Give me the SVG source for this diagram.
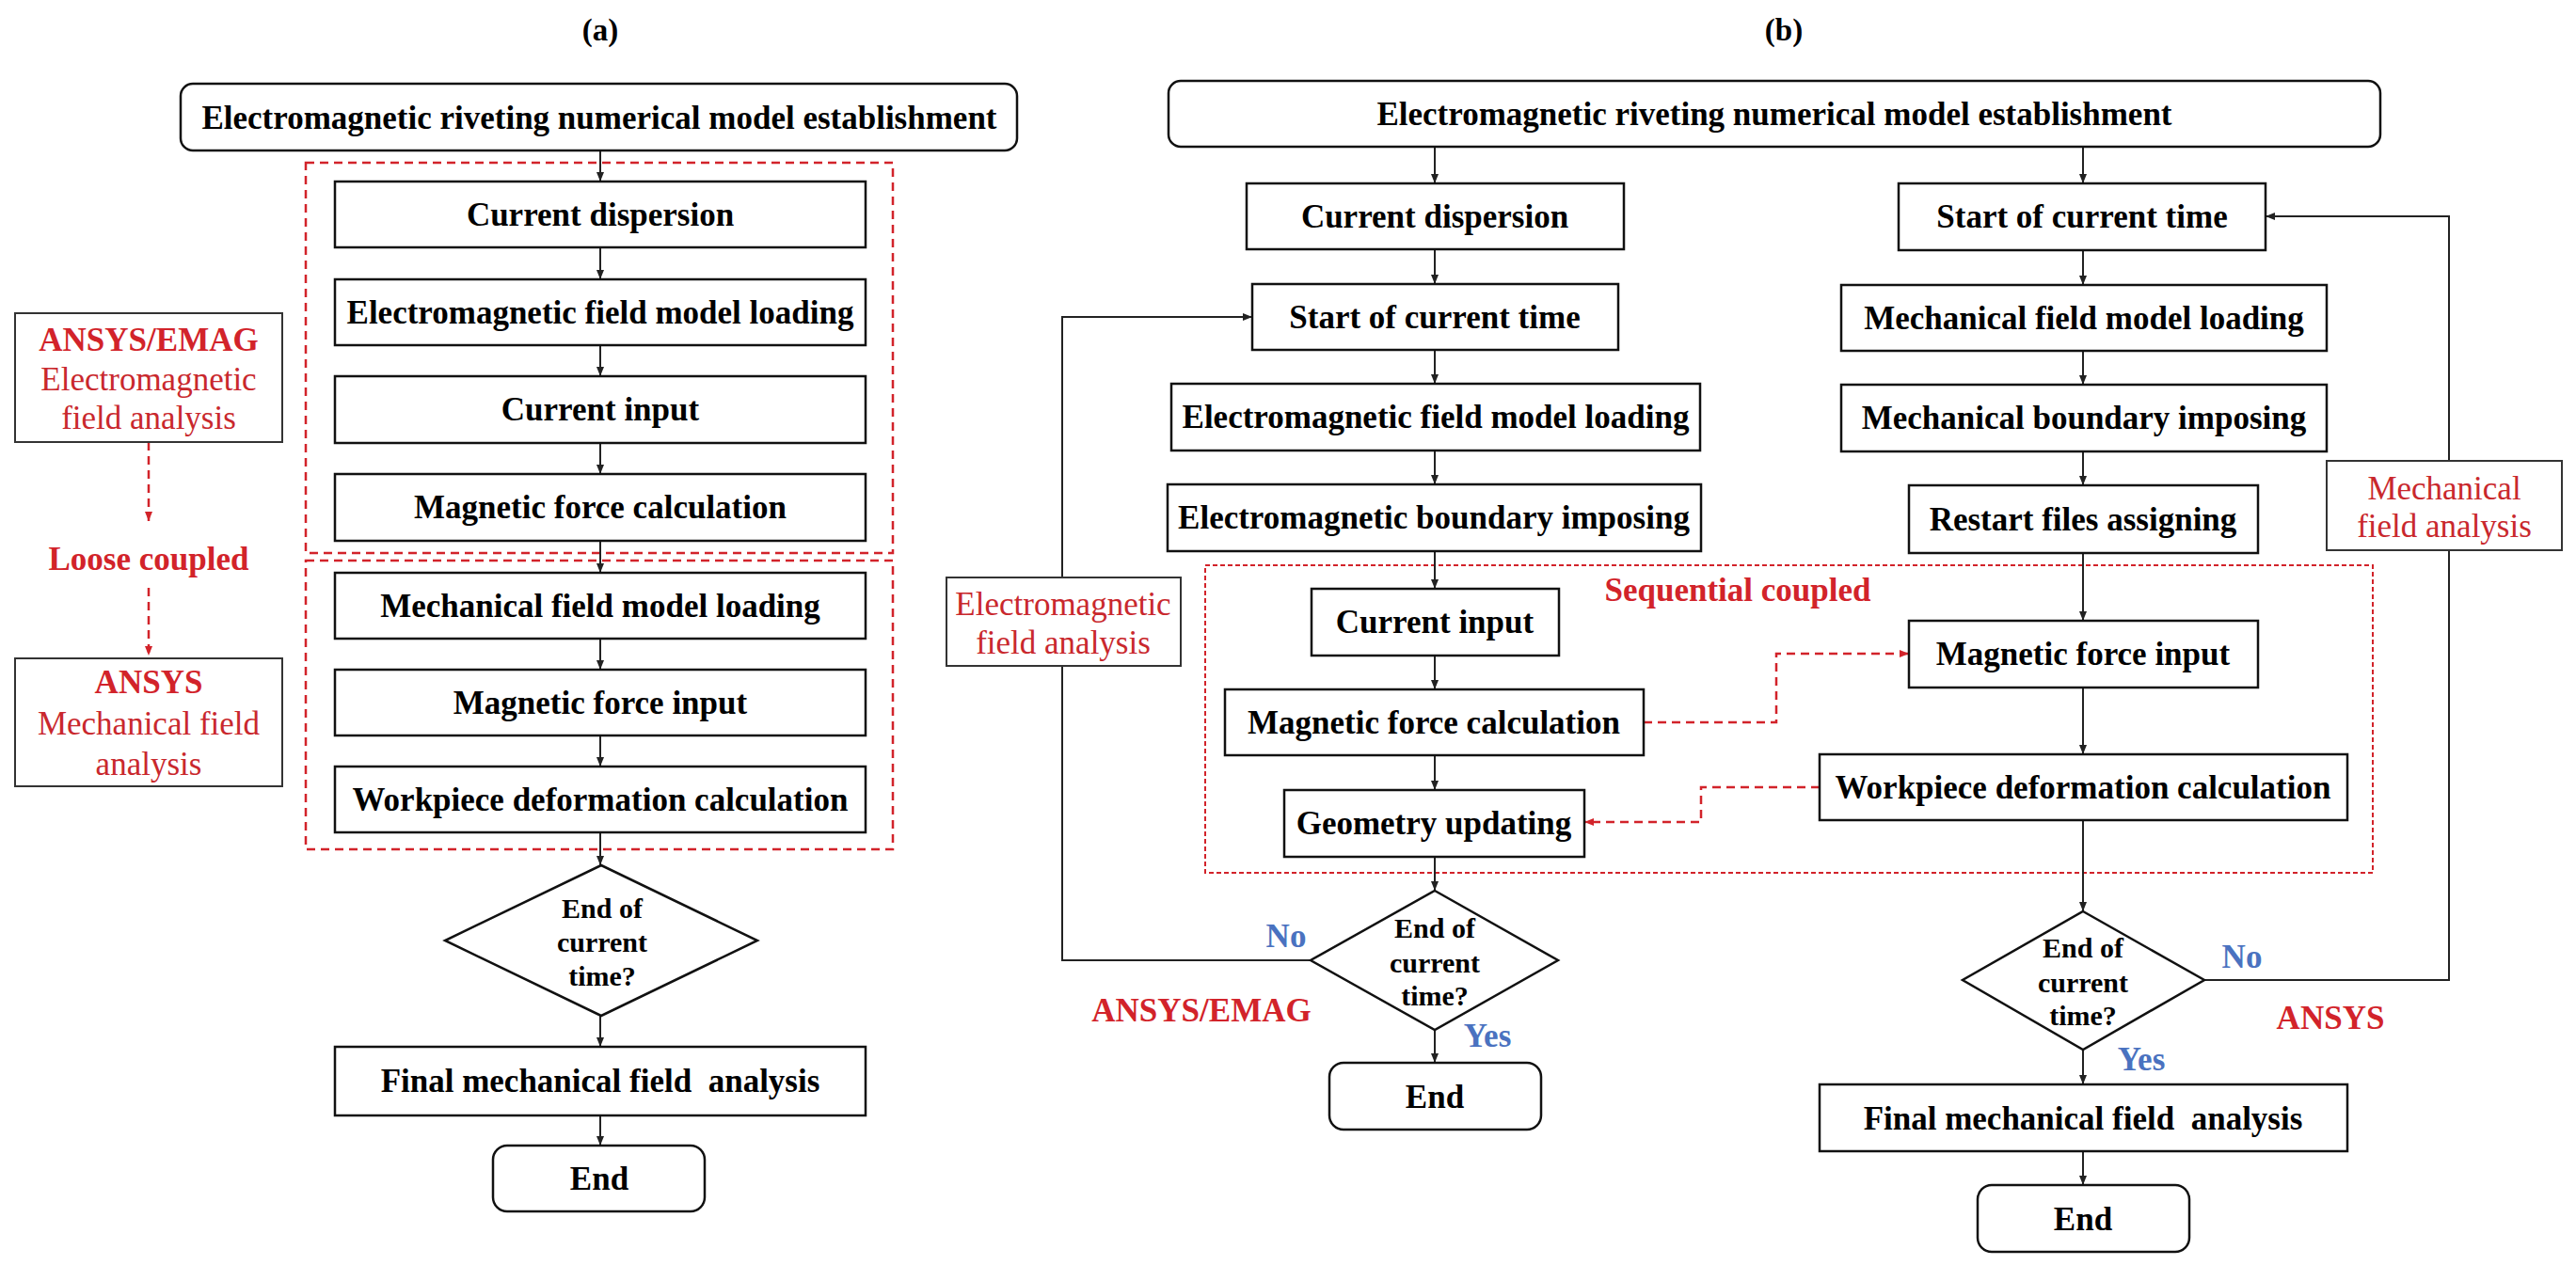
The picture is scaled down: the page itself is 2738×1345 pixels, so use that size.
<svg xmlns="http://www.w3.org/2000/svg" width="2738" height="1345" viewBox="0 0 2738 1345">
<defs>
<marker id="ah" markerWidth="10" markerHeight="8" refX="10" refY="4" orient="auto" markerUnits="userSpaceOnUse"><path d="M0,0 L10,4 L0,8 z" fill="#222"/></marker>
<marker id="ahr" markerWidth="10" markerHeight="8" refX="10" refY="4" orient="auto" markerUnits="userSpaceOnUse"><path d="M0,0 L10,4 L0,8 z" fill="#d2232a"/></marker>
<style>
.bx{fill:#fff;stroke:#111;stroke-width:2.5}
.lb{fill:#fff;stroke:#333;stroke-width:2}
.t{font-family:"Liberation Serif","Times New Roman",serif;font-weight:bold;font-size:35px;fill:#000;text-anchor:middle;white-space:pre}
.d{font-family:"Liberation Serif","Times New Roman",serif;font-weight:bold;font-size:30px;fill:#000;text-anchor:middle}
.rb{font-family:"Liberation Serif","Times New Roman",serif;font-weight:bold;font-size:35px;fill:#d2232a;text-anchor:middle}
.rr{font-family:"Liberation Serif","Times New Roman",serif;font-size:35px;fill:#c9282d;text-anchor:middle}
.bl{font-family:"Liberation Serif","Times New Roman",serif;font-weight:bold;font-size:35px;fill:#4a72c0;text-anchor:middle}
.c{fill:none;stroke:#222;stroke-width:2}
.ca{fill:none;stroke:#222;stroke-width:2;marker-end:url(#ah)}
.rd{fill:none;stroke:#d2232a;stroke-width:2.5;stroke-dasharray:9,6}
.rda{fill:none;stroke:#d2232a;stroke-width:2.5;stroke-dasharray:9,6;marker-end:url(#ahr)}
.rs{fill:none;stroke:#d2232a;stroke-width:2;stroke-dasharray:5,3}
</style>
</defs>
<rect width="2738" height="1345" fill="#fff"/>

<text class="t" x="638" y="43" style="font-size:33px">(a)</text>
<text class="t" x="1896" y="43" style="font-size:33px">(b)</text>

<!-- red dashed group boxes -->
<g id="groups">
<rect class="rd" x="325" y="173" width="624" height="415"/>
<rect class="rd" x="325" y="596" width="624" height="307"/>
<rect class="rs" x="1281" y="601" width="1241" height="327"/>
<text class="rb" x="1847" y="639">Sequential coupled</text>
</g>

<!-- connectors -->
<g id="connectors">
<!-- panel a -->
<path class="ca" d="M638,160 V193"/>
<path class="ca" d="M638,263 V297"/>
<path class="ca" d="M638,367 V400"/>
<path class="ca" d="M638,471 V504"/>
<path class="ca" d="M638,575 V609"/>
<path class="ca" d="M638,679 V712"/>
<path class="ca" d="M638,782 V815"/>
<path class="ca" d="M638,885 V920"/>
<path class="ca" d="M638,1080 V1113"/>
<path class="ca" d="M638,1186 V1218"/>
<path class="rda" d="M158,470 V554"/>
<path class="rda" d="M158,625 V697"/>
<!-- panel b left -->
<path class="ca" d="M1525,156 V195"/>
<path class="ca" d="M1525,265 V302"/>
<path class="ca" d="M1525,372 V408"/>
<path class="ca" d="M1525,479 V515"/>
<path class="ca" d="M1525,586 V626"/>
<path class="ca" d="M1525,697 V733"/>
<path class="ca" d="M1525,803 V840"/>
<path class="ca" d="M1525,911 V947"/>
<path class="ca" d="M1525,1095 V1130"/>
<path class="ca" d="M1393,1021 H1129 V337 H1331"/>
<!-- panel b right -->
<path class="ca" d="M2214,156 V195"/>
<path class="ca" d="M2214,266 V303"/>
<path class="ca" d="M2214,373 V409"/>
<path class="ca" d="M2214,480 V516"/>
<path class="ca" d="M2214,588 V660"/>
<path class="ca" d="M2214,731 V802"/>
<path class="ca" d="M2214,872 V969"/>
<path class="ca" d="M2214,1116 V1153"/>
<path class="ca" d="M2214,1224 V1260"/>
<path class="ca" d="M2343,1042 H2603 V230 H2408"/>
<!-- coupling -->
<path class="rda" d="M1747,768 H1888 V695 H2029"/>
<path class="rda" d="M1934,837 H1808 V874 H1684"/>
</g>

<!-- panel (a) nodes -->
<g id="a-start"><rect class="bx" x="192" y="89" width="889" height="71" rx="13"/><text class="t" x="637" y="137">Electromagnetic riveting numerical model establishment</text></g>
<g id="a-current-dispersion"><rect class="bx" x="356" y="193" width="564" height="70"/><text class="t" x="638" y="240">Current dispersion</text></g>
<g id="a-em-loading"><rect class="bx" x="356" y="297" width="564" height="70"/><text class="t" x="638" y="344">Electromagnetic field model loading</text></g>
<g id="a-current-input"><rect class="bx" x="356" y="400" width="564" height="71"/><text class="t" x="638" y="447">Current input</text></g>
<g id="a-mf-calc"><rect class="bx" x="356" y="504" width="564" height="71"/><text class="t" x="638" y="551">Magnetic force calculation</text></g>
<g id="a-mech-loading"><rect class="bx" x="356" y="609" width="564" height="70"/><text class="t" x="638" y="656">Mechanical field model loading</text></g>
<g id="a-mf-input"><rect class="bx" x="356" y="712" width="564" height="70"/><text class="t" x="638" y="759">Magnetic force input</text></g>
<g id="a-workpiece"><rect class="bx" x="356" y="815" width="564" height="70"/><text class="t" x="638" y="862">Workpiece deformation calculation</text></g>
<g id="a-decision"><polygon class="bx" points="639,920 805,1000 639,1080 473,1000"/><text class="d" x="640" y="976">End of</text><text class="d" x="640" y="1012">current</text><text class="d" x="640" y="1048">time?</text></g>
<g id="a-final"><rect class="bx" x="356" y="1113" width="564" height="73"/><text class="t" x="638" y="1161">Final mechanical field&#160; analysis</text></g>
<g id="a-end"><rect class="bx" x="524" y="1218" width="225" height="70" rx="15"/><text class="t" x="637" y="1265">End</text></g>
<g id="a-emag"><rect class="lb" x="16" y="333" width="284" height="137"/><text class="rb" x="158" y="373">ANSYS/EMAG</text><text class="rr" x="158" y="415">Electromagnetic</text><text class="rr" x="158" y="456">field analysis</text></g>
<g id="a-loose"><text class="rb" x="158" y="606">Loose coupled</text></g>
<g id="a-ansys"><rect class="lb" x="16" y="700" width="284" height="136"/><text class="rb" x="158" y="737">ANSYS</text><text class="rr" x="158" y="781">Mechanical field</text><text class="rr" x="158" y="824">analysis</text></g>

<!-- panel (b) nodes -->
<g id="b-start"><rect class="bx" x="1242" y="86" width="1288" height="70" rx="13"/><text class="t" x="1886" y="133">Electromagnetic riveting numerical model establishment</text></g>
<g id="b-current-dispersion"><rect class="bx" x="1325" y="195" width="401" height="70"/><text class="t" x="1525" y="242">Current dispersion</text></g>
<g id="b-start-time-em"><rect class="bx" x="1331" y="302" width="389" height="70"/><text class="t" x="1525" y="349">Start of current time</text></g>
<g id="b-em-loading"><rect class="bx" x="1245" y="408" width="562" height="71"/><text class="t" x="1526" y="455">Electromagnetic field model loading</text></g>
<g id="b-em-boundary"><rect class="bx" x="1241" y="515" width="567" height="71"/><text class="t" x="1524" y="562">Electromagnetic boundary imposing</text></g>
<g id="b-current-input"><rect class="bx" x="1394" y="626" width="263" height="71"/><text class="t" x="1525" y="673">Current input</text></g>
<g id="b-mf-calc"><rect class="bx" x="1302" y="733" width="445" height="70"/><text class="t" x="1524" y="780">Magnetic force calculation</text></g>
<g id="b-geometry"><rect class="bx" x="1365" y="840" width="319" height="71"/><text class="t" x="1524" y="887">Geometry updating</text></g>
<g id="b-decision-em"><polygon class="bx" points="1525,947 1656,1021 1525,1095 1393,1021"/><text class="d" x="1525" y="997">End of</text><text class="d" x="1525" y="1034">current</text><text class="d" x="1525" y="1069">time?</text></g>
<g id="b-end-em"><rect class="bx" x="1413" y="1130" width="225" height="71" rx="15"/><text class="t" x="1525" y="1178">End</text></g>
<g id="b-em-analysis"><rect class="lb" x="1006" y="614" width="249" height="94"/><text class="rr" x="1130" y="654">Electromagnetic</text><text class="rr" x="1130" y="695">field analysis</text></g>
<text class="bl" x="1367" y="1007">No</text>
<text class="bl" x="1581" y="1113">Yes</text>
<text class="rb" x="1277" y="1086">ANSYS/EMAG</text>

<g id="b-start-time-mech"><rect class="bx" x="2018" y="195" width="390" height="71"/><text class="t" x="2213" y="242">Start of current time</text></g>
<g id="b-mech-loading"><rect class="bx" x="1957" y="303" width="516" height="70"/><text class="t" x="2215" y="350">Mechanical field model loading</text></g>
<g id="b-mech-boundary"><rect class="bx" x="1957" y="409" width="516" height="71"/><text class="t" x="2215" y="456">Mechanical boundary imposing</text></g>
<g id="b-restart"><rect class="bx" x="2029" y="516" width="371" height="72"/><text class="t" x="2214" y="564">Restart files assigning</text></g>
<g id="b-mf-input"><rect class="bx" x="2029" y="660" width="371" height="71"/><text class="t" x="2214" y="707">Magnetic force input</text></g>
<g id="b-workpiece"><rect class="bx" x="1934" y="802" width="561" height="70"/><text class="t" x="2214" y="849">Workpiece deformation calculation</text></g>
<g id="b-decision-mech"><polygon class="bx" points="2214,969 2343,1042 2214,1116 2086,1042"/><text class="d" x="2214" y="1018">End of</text><text class="d" x="2214" y="1055">current</text><text class="d" x="2214" y="1090">time?</text></g>
<g id="b-final"><rect class="bx" x="1934" y="1153" width="561" height="71"/><text class="t" x="2214" y="1201">Final mechanical field&#160; analysis</text></g>
<g id="b-end-mech"><rect class="bx" x="2102" y="1260" width="225" height="71" rx="15"/><text class="t" x="2214" y="1308">End</text></g>
<g id="b-mech-analysis"><rect class="lb" x="2473" y="490" width="250" height="95"/><text class="rr" x="2598" y="531">Mechanical</text><text class="rr" x="2598" y="571">field analysis</text></g>
<text class="bl" x="2383" y="1029">No</text>
<text class="bl" x="2276" y="1138">Yes</text>
<text class="rb" x="2477" y="1094">ANSYS</text>
</svg>
